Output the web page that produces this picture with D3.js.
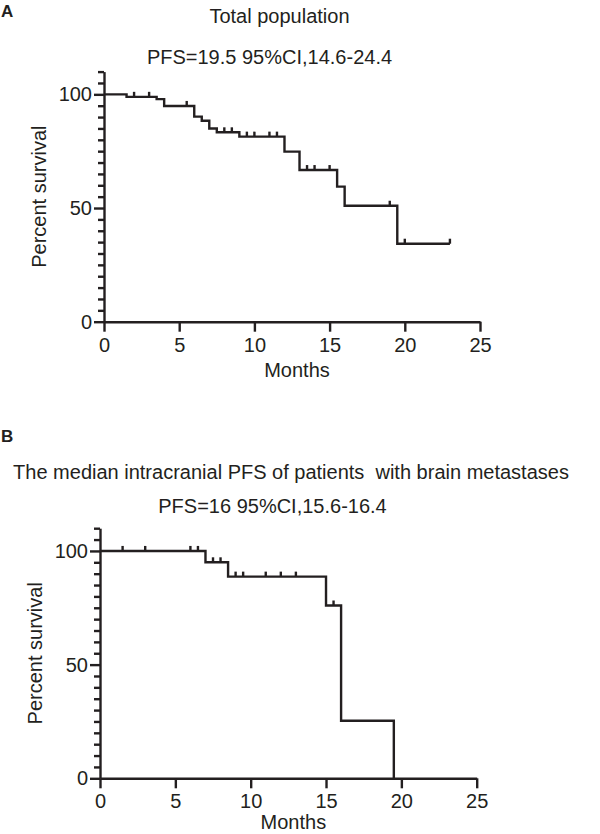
<!DOCTYPE html>
<html>
<head>
<meta charset="utf-8">
<script src="https://cdn.jsdelivr.net/npm/d3@7"></script>
<style>
  body { margin: 0; background: #fff; }
  text { font-family: "Liberation Sans", Arial, sans-serif; fill: #231f20; }
</style>
</head>
<body>
<div id="chart"></div>
<script>
var width = 600,
    height = 834;

var ink = "#231f20";
var lw = 2.4;

// panel A - total population
var stepTimesA = [0, 1.5, 3.5, 4.0, 6.0, 6.5, 7.0, 7.5, 9.0, 12.0, 13.0, 15.5, 16.0, 19.5];
var survA = [100, 98.9, 97.9, 94.9, 90.2, 88.4, 85.0, 83.3, 81.4, 74.8, 66.7, 59.4, 51.0, 34.3];
var endA = 23.0;
var censorA = [2.0, 3.0, 5.5, 8.0, 8.5, 9.5, 10.0, 11.0, 11.5, 13.5, 14.0, 15.0, 19.0, 20.0, 23.0];

// panel B - brain metastases
var stepTimesB = [0, 7.0, 8.5, 15.0, 16.0, 19.5];
var survB = [100, 95.0, 88.7, 76.0, 25.3, 0];
var endB = 19.5;
var censorB = [1.5, 3.0, 6.0, 6.5, 7.5, 8.0, 9.0, 9.5, 11.0, 12.0, 13.0, 15.5];

var xTicks = [0, 5, 10, 15, 20, 25];
var yTicks = [0, 50, 100];

var svg = d3.select("#chart").append("svg")
    .attr("width", width)
    .attr("height", height);

function levelAt(times, surv, t) {
  var v = surv[0];
  for (var i = 0; i < times.length; i++) {
    if (times[i] <= t) v = surv[i];
  }
  return v;
}

function drawPanel(p) {
  var x = d3.scaleLinear().domain([0, 25]).range([p.left, p.right]);
  var y = d3.scaleLinear().domain([0, 110]).range([p.bottom, p.bottom - 250.1]);

  var g = svg.append("g");

  // x axis
  g.append("g")
      .attr("transform", "translate(0," + p.bottom + ")")
      .call(d3.axisBottom(x).tickValues(xTicks).tickSize(10).tickPadding(6).tickSizeOuter(0));

  // y axis, minor ticks first
  var minor = d3.range(5, 111, 5).filter(function(d) { return yTicks.indexOf(d) < 0; });
  g.append("g")
      .attr("transform", "translate(" + p.left + ",0)")
      .call(d3.axisLeft(y).tickValues(minor).tickSize(6).tickFormat(""))
      .select(".domain").remove();
  g.append("g")
      .attr("transform", "translate(" + p.left + ",0)")
      .call(d3.axisLeft(y).tickValues(yTicks).tickSize(10).tickPadding(2).tickSizeOuter(0));

  g.selectAll(".domain, .tick line")
      .attr("stroke", ink)
      .attr("stroke-width", lw);
  g.selectAll(".tick text")
      .attr("font-size", 20)
      .attr("font-family", "Liberation Sans, Arial, sans-serif")
      .attr("fill", ink);

  // survival curve as steps
  var pts = [];
  for (var i = 0; i < p.times.length; i++) {
    if (i > 0) pts.push([p.times[i], p.surv[i - 1]]);
    pts.push([p.times[i], p.surv[i]]);
  }
  pts.push([p.end, p.surv[p.surv.length - 1]]);

  var line = d3.line()
      .x(function(d) { return x(d[0]); })
      .y(function(d) { return y(d[1]); });

  g.append("path")
      .datum(pts)
      .attr("d", line)
      .attr("fill", "none")
      .attr("stroke", ink)
      .attr("stroke-width", lw);

  // censor marks
  g.selectAll(".censor")
      .data(p.censor)
    .enter().append("line")
      .attr("class", "censor")
      .attr("x1", function(d) { return x(d); })
      .attr("x2", function(d) { return x(d); })
      .attr("y1", function(d) { return y(levelAt(p.times, p.surv, d)); })
      .attr("y2", function(d) { return y(levelAt(p.times, p.surv, d)) - 5; })
      .attr("stroke", ink)
      .attr("stroke-width", lw);

  // labels
  g.append("text")
      .attr("x", 1)
      .attr("y", p.letterY)
      .attr("font-size", 17)
      .attr("font-weight", "bold")
      .text(p.letter);

  g.append("text")
      .attr("x", p.titleX)
      .attr("y", p.titleY)
      .attr("text-anchor", "middle")
      .attr("font-size", 20)
      .style("white-space", "pre")
      .text(p.title);

  g.append("text")
      .attr("x", p.subX)
      .attr("y", p.subY)
      .attr("text-anchor", "middle")
      .attr("font-size", 20)
      .text(p.sub);

  g.append("text")
      .attr("transform", "translate(" + (p.left - 58) + "," + ((y(0) + y(110)) / 2) + ") rotate(-90)")
      .attr("text-anchor", "middle")
      .attr("font-size", 20)
      .text("Percent survival");

  g.append("text")
      .attr("x", (p.left + p.right) / 2 + 5)
      .attr("y", p.bottom + p.monthsOff)
      .attr("text-anchor", "middle")
      .attr("font-size", 20)
      .text("Months");
}

drawPanel({
  left: 104, right: 480, bottom: 321.7,
  times: stepTimesA, surv: survA, end: endA, censor: censorA,
  letter: "A", letterY: 17,
  title: "Total population", titleX: 279.5, titleY: 23,
  sub: "PFS=19.5 95%CI,14.6-24.4", subX: 269.5, subY: 64,
  monthsOff: 55
});

drawPanel({
  left: 100, right: 476.7, bottom: 778.3,
  times: stepTimesB, surv: survB, end: endB, censor: censorB,
  letter: "B", letterY: 442,
  title: "The median intracranial PFS of patients  with brain metastases", titleX: 291, titleY: 479,
  sub: "PFS=16 95%CI,15.6-16.4", subX: 272.5, subY: 513,
  monthsOff: 51
});
</script>
</body>
</html>
